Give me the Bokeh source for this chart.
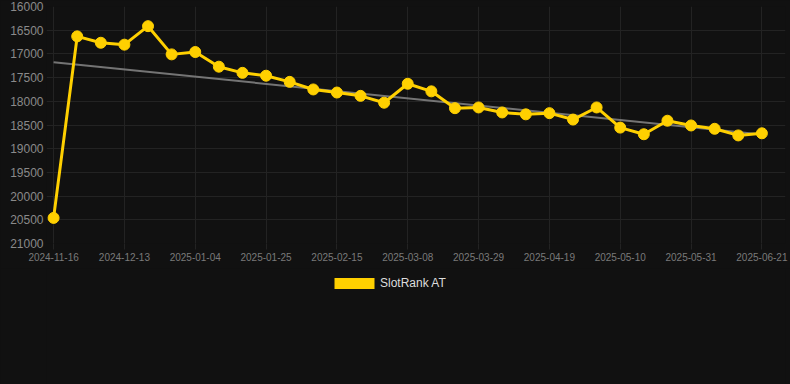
from bokeh.plotting import figure
from bokeh.layouts import column
from bokeh.models import Range1d, FixedTicker, Legend, LegendItem, ColumnDataSource
from bokeh.embed import file_html
from bokeh.resources import INLINE

dates = ["2024-11-16", "2024-11-29", "2024-12-06", "2024-12-13", "2024-12-21",
         "2024-12-28", "2025-01-04", "2025-01-11", "2025-01-18", "2025-01-25",
         "2025-02-01", "2025-02-08", "2025-02-15", "2025-02-22", "2025-03-01",
         "2025-03-08", "2025-03-15", "2025-03-22", "2025-03-29", "2025-04-05",
         "2025-04-12", "2025-04-19", "2025-04-26", "2025-05-03", "2025-05-10",
         "2025-05-17", "2025-05-24", "2025-05-31", "2025-06-07", "2025-06-14",
         "2025-06-21"]
ranks = [20460, 16630, 16765, 16805, 16415, 17010, 16960, 17270, 17400, 17460,
         17590, 17750, 17815, 17885, 18030, 17630, 17790, 18145, 18130, 18235,
         18275, 18250, 18385, 18130, 18555, 18695, 18410, 18510, 18580, 18720,
         18675]
trend_values = [17175, 18700]
y_ticks = [16000, 16500, 17000, 17500, 18000, 18500, 19000, 19500, 20000, 20500, 21000]
series_name = "SlotRank AT"

BG = "#111111"
YELLOW = "#FFD000"
GRID = "#232323"
FONT = "Liberation Sans"

xs = list(range(len(dates)))
src = ColumnDataSource(dict(x=xs, y=ranks))

p = figure(width=790, height=268, output_backend="svg", toolbar_location=None,
           x_range=Range1d(-0.3, 31.0), y_range=Range1d(21000, 16000),
           min_border_left=46, min_border_right=5, min_border_top=6,
           min_border_bottom=25)
p.background_fill_color = BG
p.border_fill_color = BG
p.outline_line_color = None

# grid
p.xgrid.grid_line_color = GRID
p.ygrid.grid_line_color = GRID
p.xgrid.grid_line_width = 1
p.ygrid.grid_line_width = 1

# axes
p.xaxis.ticker = FixedTicker(ticks=xs[::3])
p.xaxis.major_label_overrides = {i: dates[i] for i in xs[::3]}
p.yaxis.ticker = FixedTicker(ticks=y_ticks)
p.yaxis.major_label_overrides = {v: str(v) for v in y_ticks}
for ax in (p.xaxis[0], p.yaxis[0]):
    ax.axis_line_color = None
    ax.minor_tick_line_color = None
    ax.major_label_text_font = FONT
p.xaxis.major_tick_line_color = GRID
p.xaxis.major_tick_out = 6
p.xaxis.major_tick_in = 0
p.xaxis.major_label_standoff = 3
p.xaxis.major_label_text_font_size = "10px"
p.xaxis.major_label_text_color = "#7a7a7a"
p.yaxis.major_tick_line_color = None
p.yaxis.major_tick_out = 0
p.yaxis.major_tick_in = 0
p.yaxis.major_label_standoff = 3
p.yaxis.major_label_text_font_size = "12px"
p.yaxis.major_label_text_color = "#8a8a8a"

# trend line
p.line(x=[xs[0], xs[-1]], y=trend_values, line_color="#808080", line_width=2, line_alpha=0.9)

# series
p.line(x="x", y="y", source=src, line_color=YELLOW, line_width=3)
p.scatter(x="x", y="y", source=src, size=11, fill_color=YELLOW, line_color=YELLOW)

# legend in its own strip below the chart (frame aligned with the chart's frame, left at 46px)
lg = figure(width=790, height=116, output_backend="svg", toolbar_location=None,
            x_range=Range1d(0, 1), y_range=Range1d(0, 1),
            x_axis_location=None, y_axis_location=None,
            min_border_left=0, min_border_right=0, min_border_top=0,
            min_border_bottom=0)
lg.grid.visible = False
lg.background_fill_color = BG
lg.border_fill_color = BG
lg.outline_line_color = None
# hidden proxy renderer, only used for its legend swatch
swatch = lg.rect(x="x", y="y", source=src, width=1, height=1,
                 fill_color=YELLOW, line_color=None, visible=False)
legend = Legend(items=[LegendItem(label=series_name, renderers=[swatch])],
                orientation="horizontal", location=(279, 90),
                glyph_width=50, glyph_height=14, label_standoff=1,
                label_text_font=FONT, label_text_font_size="12px",
                label_text_color="#dddddd", background_fill_alpha=0,
                border_line_alpha=0, padding=4, margin=0, spacing=0,
                inactive_fill_alpha=0)
lg.add_layout(legend, "center")

layout = column(p, lg, spacing=0)

html = file_html(layout, INLINE)
html = html.replace("</head>", "<style>html,body{margin:0;padding:0;background:#111111;}</style></head>")
open("out.html", "w").write(html)
